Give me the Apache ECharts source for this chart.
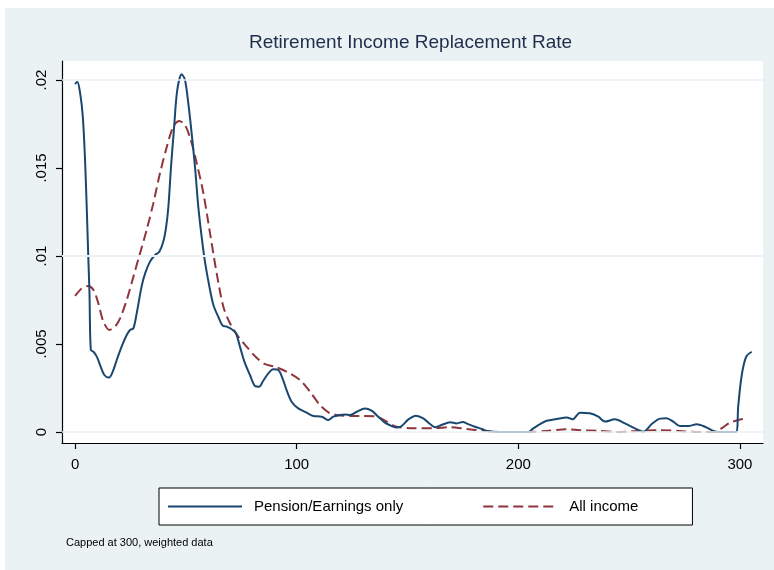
<!DOCTYPE html>
<html>
<head>
<meta charset="utf-8">
<script src="https://cdn.jsdelivr.net/npm/echarts@6/dist/echarts.min.js"></script>
<style>
html,body{margin:0;padding:0;background:#ffffff;}
#chart{position:absolute;left:5px;top:8px;width:769px;height:562px;background:#eaf2f3;}
</style>
</head>
<body>
<div id="chart"></div>
<script>
// Pension/Earnings only (x, density)
const pensionX = [0,1,2.3,3.5,4.5,5.3,6,6.5,7.1,8.3,9.8,11.3,13.2,15.3,17,18.8,21,23.3,24.8,26.3,27.8,30,31.6,33.8,36.1,38,39.8,41,42.1,43.3,44.7,46.1,48.1,49.6,51.1,52.6,54.1,55.6,57.1,58.6,60.6,62.4,64.6,66.6,68.4,70.7,72.6,74.4,76.4,78.9,81.2,83,84.9,87.2,89.4,91.7,93.6,95.4,97.7,100.7,104.5,107.5,111.3,114.3,116.5,119.5,121.8,124.1,127.1,130.8,133.8,136.8,139.8,142.9,145.1,147.4,150.4,153.8,157.1,160.2,162.4,165.4,169.2,172.2,174.9,177.4,180.4,183.5,186.5,191.7,197.7,204.5,206.8,209.8,212.8,217.3,221.8,224.5,227.8,232.3,236.1,239.1,243.6,248.1,252.6,256.4,260.2,263.9,266.9,269.9,272.9,276.7,280.5,284.2,287.2,290.2,298.2,299.2,300.3,301.5,303,305.3];
const pensionY = [0.01977,0.0199,0.01924,0.0179,0.01545,0.0126,0.0098,0.0079,0.00466,0.00456,0.00428,0.0038,0.00324,0.00309,0.00343,0.00409,0.00485,0.00551,0.0058,0.00589,0.00674,0.00826,0.00901,0.00968,0.01006,0.01024,0.01081,0.01157,0.0128,0.01508,0.01735,0.01943,0.02033,0.02,0.01867,0.01697,0.01508,0.0128,0.0111,0.00968,0.00826,0.00722,0.00655,0.00604,0.00599,0.00584,0.00561,0.00485,0.004,0.00324,0.00261,0.00257,0.00291,0.00333,0.00356,0.00352,0.00305,0.00239,0.00172,0.00134,0.0011,0.00091,0.00087,0.00068,0.00087,0.00097,0.001,0.00097,0.00115,0.00134,0.00121,0.00087,0.00053,0.00034,0.00025,0.00034,0.00072,0.00093,0.00078,0.00045,0.00027,0.0004,0.00055,0.00049,0.00057,0.00045,0.0003,0.00017,0.00004,0,0,0,0.00021,0.00045,0.00064,0.00074,0.00083,0.00072,0.0011,0.00106,0.00087,0.00059,0.00072,0.00049,0.00021,0.00002,0.00045,0.00076,0.00078,0.00059,0.00034,0.00034,0.00044,0.0003,0.00011,0,0,0.00144,0.00277,0.00371,0.00432,0.00456];
// All income (x, density)
const allX = [0,3,6,8.3,10.5,12.8,15.5,18,20.3,23.3,26.3,29.3,32.3,35.3,38.3,41.4,44.3,47,49.6,52.2,54.9,57.9,60.9,63.9,66.9,69.9,73.7,77.4,81.9,85.7,90.2,95.4,101.5,106,110.5,115,118,124.1,130.1,136.1,140.6,145.1,152.6,161.7,169.2,176.7,184.2,191.7,203.8,212.8,221.8,227.8,236.1,245.1,254.1,263.4,272.4,281.4,288.7,291.7,295.5,299.2,303];
const allY = [0.00773,0.00816,0.0083,0.00807,0.00731,0.00627,0.0058,0.00598,0.00646,0.0075,0.00882,0.01015,0.01148,0.01299,0.0147,0.01621,0.01735,0.01767,0.01744,0.01659,0.01527,0.01356,0.01129,0.00901,0.00712,0.00618,0.00541,0.00485,0.00422,0.00386,0.00371,0.00343,0.00295,0.00229,0.00153,0.00106,0.00097,0.00091,0.00091,0.00087,0.00059,0.0003,0.00021,0.00021,0.00027,0.00017,0.00007,0,0,0.00006,0.00015,0.0001,0.00006,0,0.00006,0.0001,0.00006,0,0,0.00021,0.00053,0.00068,0.00078];

const xTicks = [0,100,200,300];
const yTicks = [0,0.005,0.01,0.015,0.02];
const yTickLabels = ['0','.005','.01','.015','.02'];
const titleText = 'Retirement Income Replacement Rate';
const seriesNames = ['Pension/Earnings only','All income'];
const noteText = 'Capped at 300, weighted data';

const zip = (xs, ys) => xs.map((x, i) => [x, ys[i]]);
const FONT = '"Liberation Sans", Arial, Helvetica, sans-serif';

const chart = echarts.init(document.getElementById('chart'), null, {renderer: 'canvas'});
chart.setOption({
  animation: false,
  backgroundColor: '#eaf2f3',
  title: {
    text: titleText,
    left: 244, top: 25, padding: 0,
    textStyle: {fontFamily: FONT, fontSize: 19, fontWeight: 'normal', color: '#1f2d4d'}
  },
  grid: {
    left: 57, top: 53, width: 701, height: 382,
    show: true, backgroundColor: '#ffffff', borderWidth: 0
  },
  xAxis: {
    type: 'value', min: -5.9, max: 310.4,
    axisLine: {show: true, onZero: false, lineStyle: {color: '#000', width: 1.2}},
    axisTick: {show: true, customValues: xTicks, length: 6, lineStyle: {color: '#000', width: 1.2}},
    axisLabel: {show: true, customValues: xTicks, margin: 14, fontFamily: FONT, fontSize: 15, color: '#000',
      formatter: v => String(v)},
    splitLine: {show: false}
  },
  yAxis: {
    type: 'value', min: -0.000625, max: 0.02108,
    axisLine: {show: true, onZero: false, lineStyle: {color: '#000', width: 1.2}},
    axisTick: {show: true, customValues: yTicks, length: 6, lineStyle: {color: '#000', width: 1.2}},
    axisLabel: {show: true, customValues: yTicks, rotate: 90, margin: 13, fontFamily: FONT, fontSize: 15, color: '#000',
      formatter: v => { const i = yTicks.findIndex(t => Math.abs(t - v) < 1e-9); return i >= 0 ? yTickLabels[i] : ''; }},
    splitLine: {show: false}
  },
  legend: {
    left: 154, top: 480,
    orient: 'horizontal',
    backgroundColor: '#ffffff', borderColor: '#000', borderWidth: 1,
    padding: [11, 54, 11, 8],
    itemGap: 79, itemWidth: 74, itemHeight: 14,
    itemStyle: {opacity: 0},
    textStyle: {fontFamily: FONT, fontSize: 15, color: '#000', padding: [0, 0, 0, 7]},
    data: seriesNames
  },
  graphic: [{
    type: 'text', left: 61, top: 529,
    style: {text: noteText, font: '11px ' + FONT, fill: '#000'}
  }],
  series: [
    {
      name: 'grid', type: 'line', data: [], silent: true, z: 1,
      markLine: {
        silent: true, symbol: 'none', label: {show: false}, animation: false,
        lineStyle: {color: '#eaf2f3', width: 1.5, type: 'solid'},
        data: yTicks.map(v => ({yAxis: v}))
      }
    },
    {
      name: seriesNames[0], type: 'line', data: zip(pensionX, pensionY),
      showSymbol: false, symbol: 'none', smooth: 0.3, z: 3,
      lineStyle: {color: '#1a476f', width: 2}, itemStyle: {color: '#1a476f'}
    },
    {
      name: seriesNames[1], type: 'line', data: zip(allX, allY),
      showSymbol: false, symbol: 'none', smooth: 0.3, z: 2,
      lineStyle: {color: '#90353b', width: 2, type: [10, 5]}, itemStyle: {color: '#90353b'}
    }
  ]
});
</script>
</body>
</html>
